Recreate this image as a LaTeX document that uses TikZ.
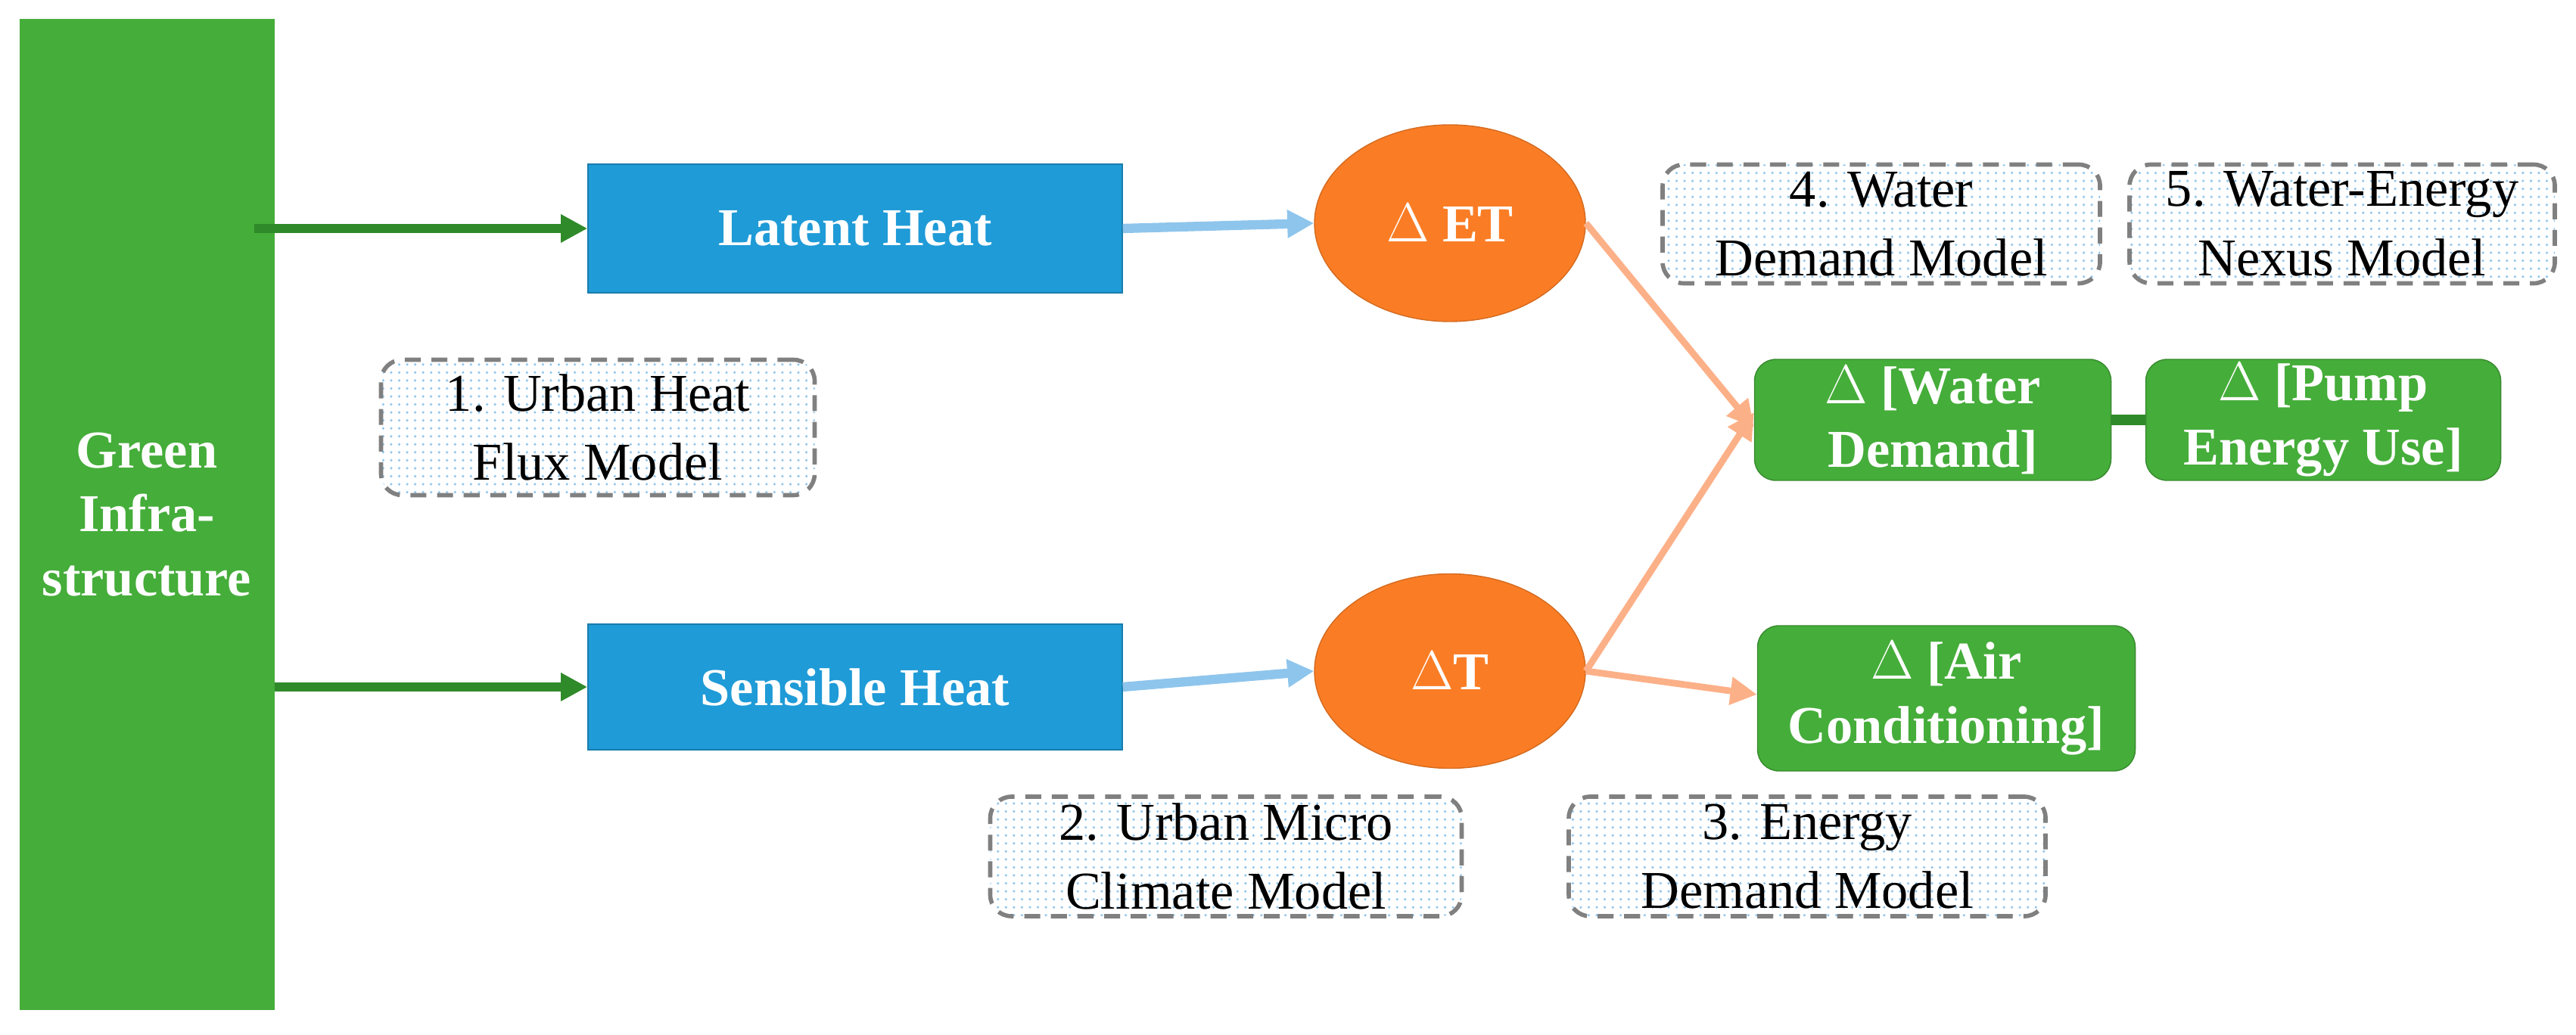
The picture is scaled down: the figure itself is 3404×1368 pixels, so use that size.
\documentclass[tikz,border=0pt]{standalone}
\usepackage{fontspec}
\setmainfont{Liberation Serif}
\usetikzlibrary{patterns,shapes.geometric,arrows.meta}
\definecolor{gr}{HTML}{45AD3A}
\definecolor{dgr}{HTML}{2F8A2A}
\definecolor{bl}{HTML}{1F9BD7}
\definecolor{lbl}{HTML}{8EC5EC}
\definecolor{org}{HTML}{FA7D25}
\definecolor{lorg}{HTML}{FCB088}
\begin{document}
\begin{tikzpicture}[x=0.01cm,y=-0.01cm,
  sz/.style 2 args={minimum width=#1*0.01cm,minimum height=#2*0.01cm},
  box/.style={draw=#1!80!black,fill=#1,text=white,font=\bfseries\fontsize{20}{24}\selectfont,inner sep=0,align=center},
  rbox/.style={box=gr,rounded corners=8pt},
  model/.style={draw=gray,dashed,line width=1.6pt,dash pattern=on 6pt off 4pt,rounded corners=8pt,pattern=dots,pattern color=lbl,font=\fontsize{20}{26}\selectfont,align=center,inner sep=0},
  garr/.style={-{Triangle[length=10pt,width=10pt]},dgr,line width=3.5pt},
  barr/.style={-{Triangle[length=10pt,width=10pt]},lbl,line width=3.5pt},
  oarr/.style={-{Triangle[length=10pt,width=10pt]},lorg,line width=2.5pt}]
\useasboundingbox (0,0) rectangle (3404,1368);
\node[box=gr,draw=none,sz={337}{1309}] (gi) at (194,680) {Green\\Infra-\\structure};
\node[box=bl,sz={706}{170}] (lh) at (1130,302) {Latent Heat};
\node[box=bl,sz={706}{166}] (sh) at (1130,908) {Sensible Heat};
\node[ellipse,fill=org,draw=org!85!black,text=white,font=\bfseries\fontsize{20}{24}\selectfont,sz={358}{260},inner sep=0] (et) at (1916,295) {$\Delta$ ET};
\node[ellipse,fill=org,draw=org!85!black,text=white,font=\bfseries\fontsize{20}{24}\selectfont,sz={358}{257},inner sep=0] (dt) at (1916,887) {$\Delta$T};
\node[rbox,sz={471}{160}] (wd) at (2554,555) {$\Delta$ [Water\\Demand]};
\node[rbox,sz={469}{160}] (pe) at (3070,555) {$\Delta$ [Pump\\Energy Use]};
\node[rbox,sz={499}{192}] (ac) at (2572,923) {$\Delta$ [Air\\Conditioning]};
\node[model,sz={573}{179}] (m1) at (790,565) {1. Urban Heat\\Flux Model};
\node[model,sz={623}{158}] (m2) at (1620,1132) {2. Urban Micro\\Climate Model};
\node[model,sz={630}{158}] (m3) at (2388,1132) {3. Energy\\Demand Model};
\node[model,sz={578}{157}] (m4) at (2486,296) {4. Water\\Demand Model};
\node[model,sz={562}{157}] (m5) at (3095,296) {5. Water-Energy\\Nexus Model};
\coordinate (g1) at (336,302);
\coordinate (g2) at (363,908);
\draw[garr] (g1) -- (lh.west);
\draw[garr] (g2) -- (sh.west);
\draw[barr] (lh.east) -- (et.west);
\draw[barr] (sh.east) -- (dt.west);
\draw[oarr] (et.east) -- ([yshift=-0.1cm]wd.west);
\draw[oarr] (dt.east) -- ([yshift=0.1cm]wd.west);
\draw[oarr] (dt.east) -- ([yshift=0.05cm]ac.west);
\draw[dgr,line width=4pt] (wd.east) -- (pe.west);
\end{tikzpicture}
\end{document}
